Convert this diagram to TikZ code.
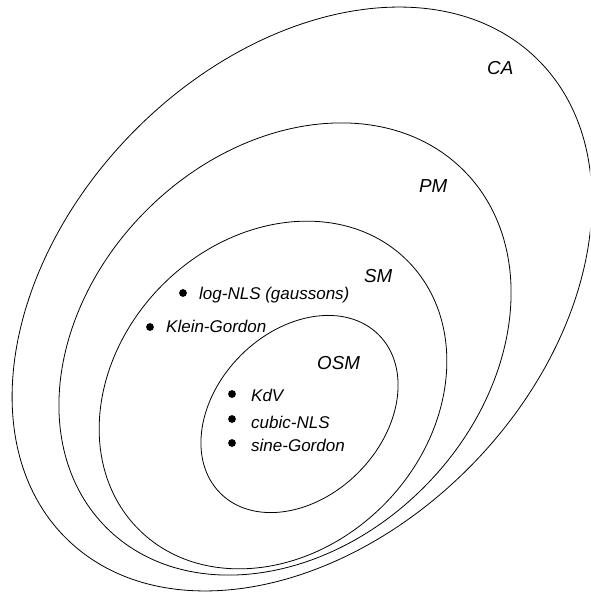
\documentclass[tikz,border=0pt]{standalone}
\usepackage{fontspec}
\setmainfont{Liberation Sans}
\begin{document}
\begin{tikzpicture}[x=1pt,y=-1pt,
  region/.style={draw=black,line width=0.8pt},
  setlabel/.style={font=\fontsize{18.8}{22}\selectfont\itshape,inner sep=0pt,anchor=base west},
  itemtext/.style={font=\fontsize{17}{20}\selectfont\itshape,inner sep=0pt,anchor=base west},
  dot/.style={circle,fill=black,inner sep=0pt,minimum size=7.8pt}]
\useasboundingbox (0,0) rectangle (590,593);
\clip (0,0) rectangle (590,593);
\coordinate (cCA) at (302,299);
\coordinate (cPM) at (285,349);
\coordinate (cSM) at (273,395);
\coordinate (cOSM) at (299.5,414);
\draw[region,rotate around={45.6:(cCA)}] (cCA) ellipse [x radius=336, y radius=237.4];
\draw[region,rotate around={45:(cPM)}] (cPM) ellipse [x radius=252.6, y radius=196];
\draw[region,rotate around={45:(cSM)}] (cSM) ellipse [x radius=190, y radius=156];
\draw[region,rotate around={45:(cOSM)}] (cOSM) ellipse [x radius=112, y radius=83];
% labels
\node[setlabel] (ca) at (487,75) {CA};
\node[setlabel] (pm) at (419,193) {PM};
\node[setlabel] (sm) at (364,282) {SM};
\node[setlabel] (osm) at (317,369) {OSM};
% items
\node[dot] (d1) at (183,293) {};
\node[itemtext] (t1) at (199,299) {log-NLS (gaussons)};
\node[dot] (d2) at (150,327) {};
\node[itemtext] (t2) at (166,332) {Klein-Gordon};
\node[dot] (d3) at (232,394) {};
\node[itemtext] (t3) at (251,401) {KdV};
\node[dot] (d4) at (232,419) {};
\node[itemtext] (t4) at (251,428) {cubic-NLS};
\node[dot] (d5) at (232,443) {};
\node[itemtext] (t5) at (251,451.5) {sine-Gordon};
\end{tikzpicture}
\end{document}
